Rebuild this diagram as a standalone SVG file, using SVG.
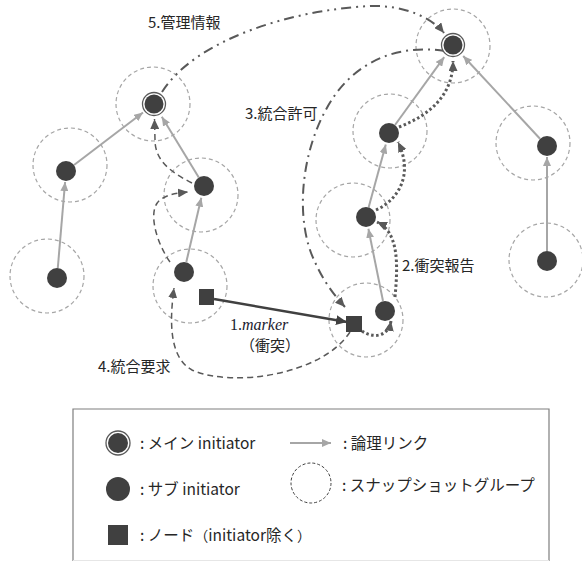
<svg xmlns="http://www.w3.org/2000/svg" width="582" height="561" viewBox="0 0 582 561">
<defs>
<style>
.grp{fill:none;stroke:#a6a6a6;stroke-width:1.2;stroke-dasharray:4 3}
.sub{fill:#404040}
.ring{fill:#fff;stroke:#595959;stroke-width:1.3}
.link{fill:none;stroke:#a6a6a6;stroke-width:2;marker-end:url(#ag)}
.dash{fill:none;stroke:#595959;stroke-width:1.5;stroke-dasharray:6 4;marker-end:url(#ad)}
.dot{fill:none;stroke:#595959;stroke-width:3;stroke-dasharray:2.5 2.5;marker-end:url(#ad)}
.dd{fill:none;stroke:#595959;stroke-width:2;stroke-dasharray:10 5 2 5;marker-end:url(#ad)}
.ddd{fill:none;stroke:#595959;stroke-width:2;stroke-dasharray:10 5 2 5 2 5;marker-end:url(#ad)}
.lbl{font-family:"Noto Sans CJK JP","Noto Sans",sans-serif;font-size:15px;fill:#262626}
.leg{font-family:"Noto Sans CJK JP","Noto Sans",sans-serif;font-size:15.5px;fill:#262626}
</style>
<marker id="ag" markerUnits="userSpaceOnUse" markerWidth="9" markerHeight="8" refX="9" refY="4" orient="auto"><path d="M0,0 L9,4 L0,8 z" fill="#a6a6a6"/></marker>
<marker id="ad" markerUnits="userSpaceOnUse" markerWidth="10" markerHeight="9" refX="10" refY="4.5" orient="auto"><path d="M0,0 L10,4.5 L0,9 z" fill="#595959"/></marker>
<marker id="ak" markerUnits="userSpaceOnUse" markerWidth="11" markerHeight="10" refX="11" refY="5" orient="auto"><path d="M0,0 L11,5 L0,10 z" fill="#404040"/></marker>
</defs>
<rect width="582" height="561" fill="#fff"/>

<g id="groups">
<circle class="grp" cx="153" cy="104" r="37"/>
<circle class="grp" cx="70" cy="165" r="37"/>
<circle class="grp" cx="47" cy="276" r="37"/>
<circle class="grp" cx="201" cy="195" r="37"/>
<circle class="grp" cx="190" cy="286" r="37"/>
<circle class="grp" cx="366" cy="320" r="37"/>
<circle class="grp" cx="353" cy="220" r="37"/>
<circle class="grp" cx="390" cy="131" r="37"/>
<circle class="grp" cx="453" cy="46" r="37"/>
<circle class="grp" cx="533" cy="143" r="37"/>
<circle class="grp" cx="546" cy="260" r="37"/>
</g>

<g id="connectors">
<path class="link" d="M57.8,268 L65.1,182"/>
<path class="link" d="M74,165 L143,112.5"/>
<path class="link" d="M198.8,177.5 L161.8,116.8"/>
<path class="link" d="M186.3,262 L201.3,197.7"/>
<path class="link" d="M383,301 L368.4,228.8"/>
<path class="link" d="M368.6,207.4 L385.8,144.6"/>
<path class="link" d="M395,125 L444.2,57.1"/>
<path class="link" d="M540,138.7 L463.2,56"/>
<path class="link" d="M547,251 L547,157"/>
<path d="M214,299 L347,322" fill="none" stroke="#404040" stroke-width="2.5" marker-end="url(#ak)"/>
<path class="dot" d="M362,331 C372,338 388,338 391,321"/>
<path class="dot" d="M395,297 C398,265 399,232 377,222"/>
<path class="dot" d="M376,210 C398,200 414,175 398,142"/>
<path class="dot" d="M399,127 C430,115 453,95 453,61"/>
<path class="dash" d="M350,332 C322,375 232,388 192,370 C168,357 170,318 174,288"/>
<path class="dash" d="M170,262 C156,242 147,210 160,200 C168,194 178,193 188,192"/>
<path class="dash" d="M192,183 C170,172 155,160 155,140 L154.5,119"/>
<path class="dd" d="M445,51 C400,44 360,60 335,95 C300,145 294,220 315,262 C322,278 332,293 345,307"/>
<path class="ddd" d="M162,92 C195,40 290,10 370,6 C405,5 432,18 444,33"/>
</g>

<g id="n-mainL"><circle class="ring" cx="154" cy="104" r="11.5"/><circle class="sub" cx="154" cy="104" r="9.5"/></g>
<g id="n-mainR"><circle class="ring" cx="453" cy="45" r="11.5"/><circle class="sub" cx="453" cy="45" r="9.5"/></g>
<g id="n1"><circle class="sub" cx="66" cy="171" r="10"/></g>
<g id="n2"><circle class="sub" cx="57" cy="278" r="10"/></g>
<g id="n3"><circle class="sub" cx="204" cy="186" r="10"/></g>
<g id="n4"><circle class="sub" cx="184" cy="272" r="10"/></g>
<g id="n5"><circle class="sub" cx="385" cy="311" r="10"/></g>
<g id="n6"><circle class="sub" cx="366" cy="217" r="10"/></g>
<g id="n7"><circle class="sub" cx="389" cy="133" r="10"/></g>
<g id="n8"><circle class="sub" cx="547" cy="146" r="10"/></g>
<g id="n9"><circle class="sub" cx="547" cy="261" r="10"/></g>
<g id="sq1"><rect class="sub" x="199" y="289" width="15" height="16"/></g>
<g id="sq2"><rect class="sub" x="346" y="316" width="16" height="16"/></g>

<g id="labels">
<text class="lbl" x="148" y="28">5.管理情報</text>
<text class="lbl" x="245" y="119">3.統合許可</text>
<text class="lbl" x="402" y="271">2.衝突報告</text>
<text class="lbl" x="98" y="372">4.統合要求</text>
<text x="230" y="330" font-family="Liberation Serif,DejaVu Serif,serif" font-size="16" fill="#1a1a2e">1.<tspan font-style="italic">marker</tspan></text>
<text class="lbl" x="240" y="351" font-size="14">（衝突）</text>
</g>

<g id="legend">
<path d="M73,561 L73,409 L549,409 L549,561" fill="none" stroke="#7f7f7f" stroke-width="1.2"/>
<line x1="73" y1="560.5" x2="549" y2="560.5" stroke="#e6e6e6" stroke-width="1"/>
<circle class="ring" cx="118" cy="443" r="12"/><circle class="sub" cx="118" cy="443" r="10"/>
<text class="leg" x="140" y="449">: メイン initiator</text>
<path class="link" d="M290,443 L331,443" stroke-width="1.5"/>
<text class="leg" x="343" y="449">: 論理リンク</text>
<circle class="sub" cx="118" cy="489" r="12"/>
<text class="leg" x="140" y="495">: サブ initiator</text>
<circle cx="311" cy="483" r="20" fill="none" stroke="#404040" stroke-width="1" stroke-dasharray="3 2"/>
<text class="leg" x="342" y="491">: スナップショットグループ</text>
<rect class="sub" x="108" y="525" width="20" height="20"/>
<text class="leg" x="140" y="541">: ノード<tspan font-size="14">（</tspan>initiator除く<tspan font-size="14">）</tspan></text>
</g>
</svg>
